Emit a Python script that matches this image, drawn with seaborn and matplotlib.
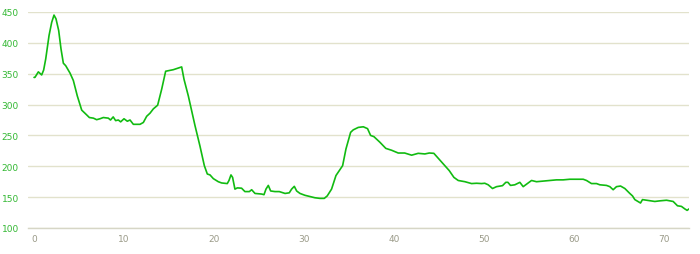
import matplotlib
matplotlib.use("Agg")
import matplotlib.pyplot as plt
import seaborn as sns
import pandas as pd

distance_km = [0.0, 0.1, 0.48, 0.85, 1.07, 1.3, 1.67, 1.96, 2.22, 2.44, 2.74, 3.0, 3.26, 3.52,
               4.0, 4.37, 4.81, 5.3, 5.67, 5.8, 6.15, 6.6, 6.96, 7.33, 7.7, 8.26, 8.5, 8.8,
               9.07, 9.37, 9.63, 10.0, 10.37, 10.67, 11.04, 11.78, 12.15, 12.52, 12.89, 13.26,
               13.74, 14.19, 14.63, 15.48, 16.41, 16.67, 17.15, 17.89, 18.44, 18.93, 19.26,
               19.56, 19.93, 20.48, 20.85, 21.48, 21.67, 21.89, 22.07, 22.33, 22.6, 23.07,
               23.44, 23.93, 24.19, 24.56, 25.3, 25.56, 25.78, 26.04, 26.3, 26.78, 27.26,
               27.9, 28.37, 28.63, 28.93, 29.19, 29.56, 30.11, 30.67, 31.22, 31.78, 32.26,
               32.59, 33.07, 33.56, 34.0, 34.3, 34.67, 35.19, 35.48, 36.04, 36.6, 37.07,
               37.41, 37.78, 38.44, 39.1, 39.74, 40.48, 41.2, 41.97, 42.7, 43.44, 43.93,
               44.44, 44.93, 45.48, 46.15, 46.67, 47.15, 47.9, 48.63, 49.19, 49.74, 50.1,
               50.48, 50.96, 51.41, 52.07, 52.44, 52.67, 52.96, 53.44, 54.0, 54.37, 54.74,
               55.3, 55.85, 56.6, 57.33, 58.07, 58.81, 59.56, 60.3, 61.04, 61.41, 61.96,
               62.52, 62.89, 63.63, 64.0, 64.37, 64.74, 65.19, 65.67, 66.22, 66.52, 66.78,
               67.41, 67.63, 68.07, 69.0, 69.56, 70.3, 71.04, 71.52, 71.96, 72.33, 72.59, 72.81]
elevation_m = [344, 344, 353, 348, 356, 374, 412, 433, 445, 439, 420, 390, 367, 363,
               351, 339, 314, 291, 286, 284, 279, 278, 275.5, 277, 279, 278, 275, 280,
               274, 275, 272, 277, 273, 275, 268, 268, 271, 281, 286, 293,
               299, 325, 354, 356.5, 361, 341, 314, 266, 233, 201, 187.5,
               186, 180, 175, 173, 172, 177, 186, 182, 163, 165, 164.5,
               159, 159, 162, 156, 155, 154, 163, 169, 160, 159, 159,
               156, 157, 163, 167.5, 160, 156, 153, 151, 149, 148, 148,
               152, 163, 185, 194.5, 201, 228, 255, 259, 263, 264, 261,
               250, 248, 239, 229, 226, 221.5, 221.5, 218, 221, 220, 221.5,
               221, 213, 204, 193, 182, 177, 175, 172, 172.5, 172, 172.5,
               170, 164, 167, 168.6, 174, 174, 169, 170, 174, 167, 171,
               177, 175, 176, 177, 178, 178, 179, 179, 179, 177, 172,
               172, 170, 169, 167, 162, 167, 168, 164, 156, 152, 146,
               140.5, 146, 145, 143, 144, 145, 143, 136, 135, 131, 128.6, 131]
y_ticks = [100, 150, 200, 250, 300, 350, 400, 450]
x_ticks = [0, 10, 20, 30, 40, 50, 60, 70]

df = pd.DataFrame({"km": distance_km, "m": elevation_m})

sns.set_theme(style="white")
fig = plt.figure(figsize=(7.0, 2.55), dpi=100)
ax = fig.add_axes([28 / 700, 1 - 229 / 255, (689 - 28) / 700, (229 - 13) / 255])

sns.lineplot(data=df, x="km", y="m", ax=ax, color="#11bb11", linewidth=1.2)

ax.set_xlim(-0.67, 72.8)
ax.set_ylim(100, 450)
ax.set_yticks(y_ticks)
ax.set_xticks(x_ticks)
ax.set_xlabel("")
ax.set_ylabel("")
ax.grid(axis="y", color="#e2e2cc", linewidth=1.0)
ax.set_axisbelow(True)
for s in ["top", "left", "right"]:
    ax.spines[s].set_visible(False)
ax.spines["bottom"].set_color("#d6d6c6")
ax.spines["bottom"].set_linewidth(1.0)
ax.tick_params(axis="y", length=0, pad=6.5, labelsize=6.5, labelcolor="#33b833")
ax.tick_params(axis="x", length=0, pad=4.5, labelsize=6.5, labelcolor="#9a9a88")

fig.savefig("out.png", dpi=100)
